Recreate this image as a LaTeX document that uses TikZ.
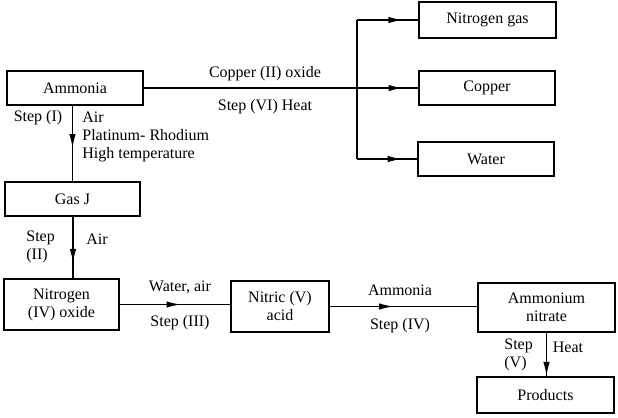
\documentclass[tikz,border=0pt]{standalone}
\usepackage{fontspec}
\setmainfont{Liberation Serif}
\usetikzlibrary{arrows.meta,decorations.markings}
\tikzset{
  box/.style={draw,line width=0.6pt,inner sep=0pt,align=center,font=\fontsize{8}{9}\selectfont},
  lbl/.style={inner sep=0pt,font=\fontsize{8}{9.2}\selectfont},
  conn/.style={line width=0.6pt},
  marr/.style={postaction={decorate,decoration={markings,mark=at position #1 with {\arrow{Latex[length=7pt,width=3.2pt]}}}}}
}
\begin{document}
\begin{tikzpicture}[x=0.5pt,y=-0.5pt]
\useasboundingbox (0,0) rectangle (618,418);
% boxes
\node[box,minimum width=68pt,minimum height=17pt] (amm) at (75,88) {Ammonia};
\node[box,minimum width=67.5pt,minimum height=17pt] (gasj) at (72.5,199) {Gas J};
\node[box,minimum width=57.5pt,minimum height=25.5pt] (no2) at (61.5,304.5) {Nitrogen\\(IV) oxide};
\node[box,minimum width=49pt,minimum height=25.5pt] (nit) at (280,306.5) {Nitric (V)\\acid};
\node[box,minimum width=68.5pt,minimum height=24.5pt] (an) at (546.5,307.5) {Ammonium\\nitrate};
\node[box,minimum width=68.5pt,minimum height=18pt] (prod) at (545.5,395) {Products};
\node[box,minimum width=68.5pt,minimum height=18pt] (n2) at (487.5,20) {Nitrogen gas};
\node[box,minimum width=68pt,minimum height=17pt] (cu) at (487,88) {Copper};
\node[box,minimum width=68pt,minimum height=17pt] (wat) at (486,159) {Water};
% junction coordinates
\coordinate (jt) at (357,20);
\coordinate (jb) at (357,159);
% connectors
\draw[conn,marr=0.9425] (amm.east) -- (cu.west);
\draw[conn] (jt) -- (jb);
\draw[conn,marr=0.74] (jt) -- (n2.west);
\draw[conn,marr=0.74] (jb) -- (wat.west);
\draw[conn,marr=0.56] (amm.south -| gasj.north) -- (gasj.north);
\draw[conn,marr=0.75] (gasj.south -| 73,0) -- (no2.north -| 73,0);
\draw[conn,marr=0.55] (no2.east) -- (no2.east -| nit.west);
\draw[conn,marr=0.43] (nit.east) -- (nit.east -| an.west);
\draw[conn,marr=0.99] (an.south) -- (prod.north -| an.south);
% labels
\node[lbl] (l1) at (265,74) {Copper (II) oxide};
\node[lbl] (l2) at (265,107) {Step (VI) Heat};
\node[lbl] (l3) at (38,118) {Step (I)};
\node[lbl,anchor=west,align=left] (l4) at (82,137) {Air\\Platinum- Rhodium\\High temperature};
\node[lbl,anchor=west,align=left] (l5) at (26,247) {Step\\(II)};
\node[lbl] (l6) at (97,239) {Air};
\node[lbl] (l7) at (180,287) {Water, air};
\node[lbl] (l8) at (180,323) {Step (III)};
\node[lbl] (l9) at (400,290) {Ammonia};
\node[lbl] (l10) at (400,326) {Step (IV)};
\node[lbl,anchor=west,align=left] (l11) at (504,355) {Step\\(V)};
\node[lbl] (l12) at (568,347) {Heat};
\end{tikzpicture}
\end{document}
